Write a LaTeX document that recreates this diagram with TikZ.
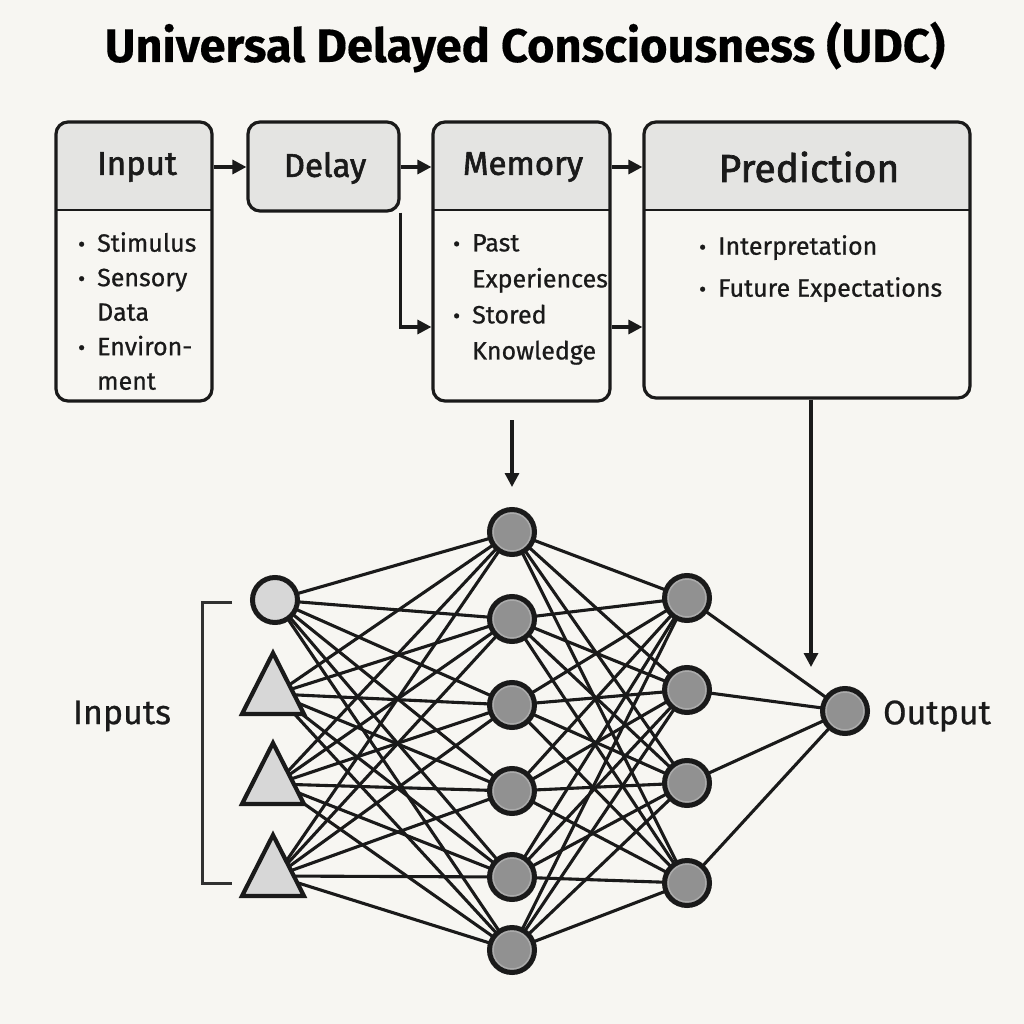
\documentclass[tikz,border=0pt]{standalone}
\usepackage{fontspec}
\setmainfont{Fira Sans}[FakeBold=0.7]
\newfontfamily\hdfont[FakeBold=1.8]{Fira Sans}
\newfontfamily\ttlfont[FakeBold=0.3]{Fira Sans Bold}
\usetikzlibrary{arrows.meta}
\definecolor{bg}{HTML}{F7F6F2}
\definecolor{hdr}{HTML}{E4E4E2}
\definecolor{ink}{HTML}{1A1A1A}
\definecolor{nodegray}{HTML}{919191}
\definecolor{rimgray}{HTML}{ABABAB}
\definecolor{ingray}{HTML}{D7D7D7}
\pgfdeclarelayer{bglayer}
\pgfdeclarelayer{edgelayer}
\pgfsetlayers{bglayer,edgelayer,main}
\newcommand\mybul{\makebox[0pt][r]{{\fontsize{22}{22}\selectfont •}\hspace{12pt}}}
\begin{document}
\begin{tikzpicture}[x=1pt,y=-1pt,
  box/.style={draw=ink, line width=3.2pt, rounded corners=12pt, inner sep=0pt},
  hdtext/.style={font=\hdfont\fontsize{#1}{#1}\selectfont, text=ink, inner sep=0pt},
  bodytext/.style={font=\fontsize{25}{#1}\selectfont, text=ink, align=left, anchor=north west, inner sep=0pt},
  arr/.style={draw=ink, line width=3.2pt, -{Triangle[length=14pt,width=14pt]}},
  hnode/.style={circle, fill=nodegray, draw=ink, line width=5pt, minimum size=45pt, inner sep=0pt,
    path picture={\draw[rimgray, line width=1.5pt] (path picture bounding box.center) circle (19pt);}},
  inode/.style={circle, fill=ingray, draw=ink, line width=5pt, minimum size=45pt, inner sep=0pt},
  tri/.style={fill=ingray, draw=ink, line width=4.2pt, line join=miter},
  conn/.style={draw=ink, line width=3.1pt},
  divider/.style={draw=ink, line width=2.6pt}
]
\useasboundingbox (0,0) rectangle (1024,1024);
\begin{pgfonlayer}{bglayer}
\fill[bg] (0,0) rectangle (1024,1024);
\end{pgfonlayer}

% title
\node[font=\ttlfont\fontsize{47}{47}\selectfont, text=black, anchor=base] (title) at (525,62) {Universal Delayed Consciousness (UDC)};

% Input box
\fill[hdr] (56,210) [rounded corners=12pt] -- (56,122) -- (212,122) [sharp corners] -- (212,210) -- cycle;
\draw[divider] (56,210) -- (212,210);
\node[box, minimum width=156pt, minimum height=279pt] (inp) at (134,261.5) {};
\node[hdtext=33] (inph) at (137,167) {Input};
\node[bodytext=34.5] (inpb) at (97,232) {\mybul Stimulus\\\mybul Sensory\\Data\\\mybul Environ-\\ment};

% Delay box
\node[box, fill=hdr, minimum width=151pt, minimum height=89pt] (dly) at (323.5,166.5) {};
\node[hdtext=33] (dlyh) at (325,168) {Delay};

% Memory box
\fill[hdr] (433,210) [rounded corners=12pt] -- (433,122) -- (610,122) [sharp corners] -- (610,210) -- cycle;
\draw[divider] (433,210) -- (610,210);
\node[box, minimum width=177pt, minimum height=279pt] (mem) at (521.5,261.5) {};
\node[hdtext=33] (memh) at (523,167) {Memory};
\node[bodytext=36] (memb) at (472,234) {\mybul Past\\Experiences\\\mybul Stored\\Knowledge};

% Prediction box
\fill[hdr] (644,210) [rounded corners=12pt] -- (644,122) -- (970,122) [sharp corners] -- (970,210) -- cycle;
\draw[divider] (644,210) -- (970,210);
\node[box, minimum width=326pt, minimum height=276pt] (pred) at (807,260) {};
\node[hdtext=39] (predh) at (809,167) {Prediction};
\node[bodytext=42] (predb) at (718,235) {\mybul Interpretation\\\mybul Future Expectations};

% flow arrows
\coordinate (toprow) at (0,167);
\coordinate (lowrow) at (0,327);
\draw[arr] (inp.east |- toprow) -- (dly.west |- toprow);
\draw[arr] (dly.east |- toprow) -- (mem.west |- toprow);
\draw[arr] (dly.south east) |- (mem.west |- lowrow);
\draw[arr] (mem.east |- toprow) -- (pred.west |- toprow);
\draw[arr] (mem.east |- lowrow) -- (pred.west |- lowrow);

% network nodes
\node[inode] (i1) at (275,600) {};
\coordinate (i2) at (276,694);
\coordinate (i3) at (276,784);
\coordinate (i4) at (276,876);
\draw[tri] (273,653) -- (304,714) -- (242,714) -- cycle;
\draw[tri] (273,743) -- (304,804) -- (242,804) -- cycle;
\draw[tri] (273,835) -- (304,896) -- (242,896) -- cycle;

\node[hnode] (h1) at (512,532) {};
\node[hnode] (h2) at (512,619) {};
\node[hnode] (h3) at (512,705) {};
\node[hnode] (h4) at (512,791) {};
\node[hnode] (h5) at (512,877) {};
\node[hnode] (h6) at (512,950) {};

\node[hnode] (g1) at (687,598) {};
\node[hnode] (g2) at (687,690) {};
\node[hnode] (g3) at (687,783) {};
\node[hnode] (g4) at (687,883) {};

\node[hnode] (out) at (845,711) {};

\begin{pgfonlayer}{edgelayer}
\foreach \a in {i1,i2,i3,i4}{\foreach \b in {h1,h2,h3,h4,h5,h6}{\draw[conn] (\a.center) -- (\b.center);}}
\foreach \a in {h1,h2,h3,h4,h5,h6}{\foreach \b in {g1,g2,g3,g4}{\draw[conn] (\a.center) -- (\b.center);}}
\foreach \a in {g1,g2,g3,g4}{\draw[conn] (\a.center) -- (out.center);}
\end{pgfonlayer}

% arrows into network
\coordinate (memdown) at (512,420);
\draw[arr] (memdown) -- (512,487);
\draw[arr] (pred.south -| 811,0) -- (811,667);

% bracket and labels
\draw[draw=ink!90, line width=3pt] (232,602) -- (202,602) -- (202,883) -- (232,883);
\node[font=\fontsize{34}{34}\selectfont, text=ink] (inlab) at (122,716) {Inputs};
\node[font=\fontsize{34}{34}\selectfont, text=ink] (outlab) at (937,716) {Output};
\end{tikzpicture}
\end{document}
